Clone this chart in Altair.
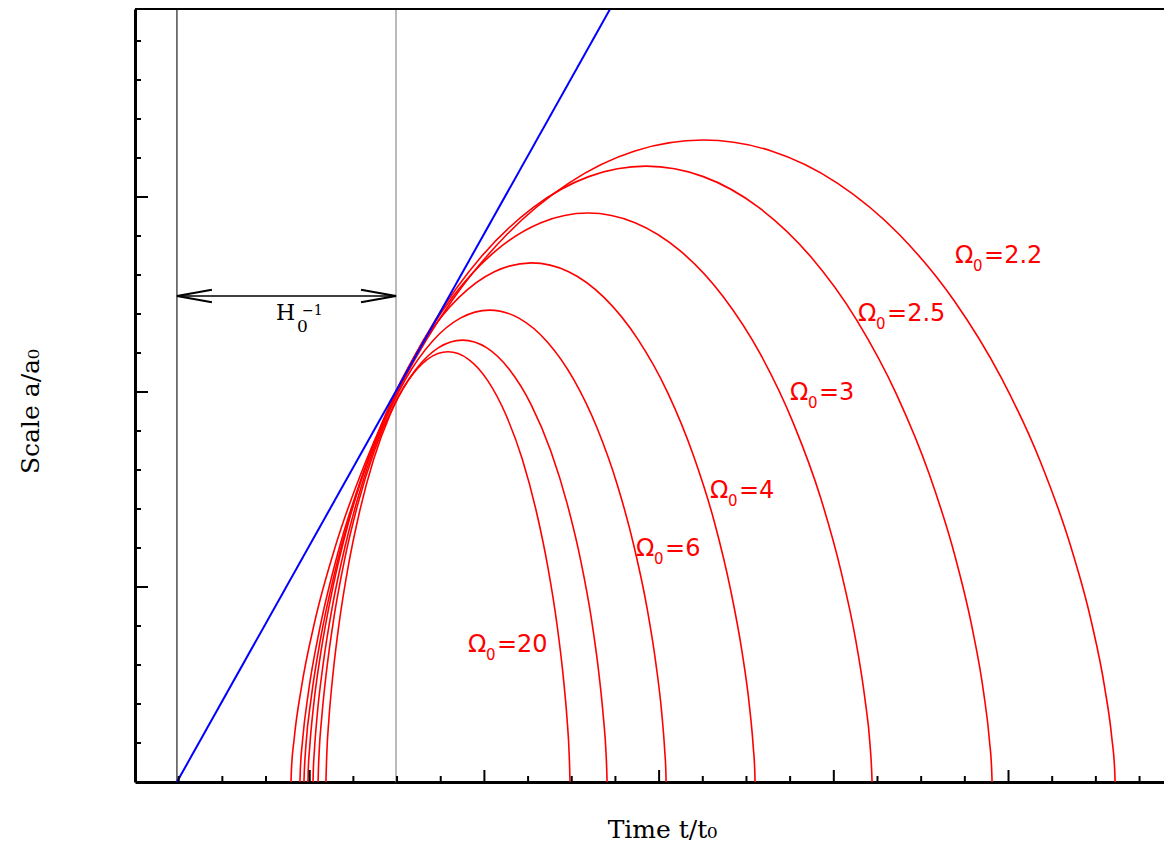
import altair as alt
import pandas as pd

# ---------------- data ----------------
# x: time in major-tick units (axis starts at 0), y: scale a/a0
OMEGA = ["20", "10", "6", "4", "3", "2.5", "2.2"]

T_OM20 = [1.093, 1.094, 1.098, 1.110, 1.133, 1.169, 1.220, 1.286, 1.366, 1.460, 1.564, 1.676, 1.792,
          1.907, 2.019, 2.123, 2.217, 2.297, 2.363, 2.414, 2.450, 2.473, 2.485, 2.489, 2.490]
A_OM20 = [0.0, 0.0188, 0.0739, 0.1615, 0.2758, 0.4088, 0.5515, 0.6942, 0.8273, 0.9415, 1.0291, 1.0843, 1.103,
          1.0843, 1.0291, 0.9415, 0.8273, 0.6942, 0.5515, 0.4088, 0.2758, 0.1615, 0.0739, 0.0188, 0.0]

T_OM10 = [1.048, 1.049, 1.054, 1.069, 1.096, 1.138, 1.198, 1.276, 1.371, 1.482, 1.606, 1.738, 1.875,
          2.012, 2.144, 2.268, 2.379, 2.474, 2.552, 2.612, 2.654, 2.681, 2.696, 2.701, 2.702]
A_OM10 = [0.0, 0.0193, 0.0759, 0.1659, 0.2833, 0.4199, 0.5665, 0.7131, 0.8498, 0.9671, 1.0571, 1.1137, 1.133,
          1.1137, 1.0571, 0.9671, 0.8498, 0.7131, 0.5665, 0.4199, 0.2833, 0.1659, 0.0759, 0.0193, 0.0]

T_OM6 = [1.019, 1.020, 1.027, 1.044, 1.077, 1.129, 1.203, 1.298, 1.414, 1.549, 1.700, 1.862, 2.030,
         2.197, 2.359, 2.510, 2.645, 2.761, 2.856, 2.930, 2.982, 3.015, 3.032, 3.039, 3.040]
A_OM6 = [0.0, 0.0206, 0.0811, 0.1771, 0.3025, 0.4484, 0.6050, 0.7616, 0.9075, 1.0329, 1.1289, 1.1894, 1.210,
         1.1894, 1.1289, 1.0329, 0.9075, 0.7616, 0.6050, 0.4484, 0.3025, 0.1771, 0.0811, 0.0206, 0.0]

T_OM4 = [0.990, 0.991, 1.000, 1.022, 1.064, 1.130, 1.222, 1.343, 1.490, 1.662, 1.853, 2.057, 2.270,
         2.482, 2.686, 2.877, 3.049, 3.196, 3.317, 3.409, 3.475, 3.517, 3.539, 3.548, 3.549]
A_OM4 = [0.0, 0.0227, 0.0892, 0.1949, 0.3328, 0.4933, 0.6655, 0.8377, 0.9983, 1.1361, 1.2418, 1.3084, 1.331,
         1.3084, 1.2418, 1.1361, 0.9983, 0.8377, 0.6655, 0.4933, 0.3328, 0.1949, 0.0892, 0.0227, 0.0]

T_OM3 = [0.967, 0.969, 0.979, 1.008, 1.061, 1.145, 1.262, 1.416, 1.603, 1.821, 2.063, 2.324, 2.593,
         2.862, 3.123, 3.365, 3.583, 3.770, 3.924, 4.041, 4.125, 4.178, 4.207, 4.217, 4.219]
A_OM3 = [0.0, 0.0249, 0.0978, 0.2136, 0.3648, 0.5407, 0.7295, 0.9183, 1.0943, 1.2454, 1.3612, 1.4342, 1.459,
         1.4342, 1.3612, 1.2454, 1.0943, 0.9183, 0.7295, 0.5407, 0.3648, 0.2136, 0.0978, 0.0249, 0.0]

T_OM25 = [0.944, 0.946, 0.959, 0.993, 1.058, 1.160, 1.304, 1.491, 1.719, 1.984, 2.280, 2.597, 2.925,
          3.253, 3.570, 3.866, 4.131, 4.359, 4.546, 4.690, 4.792, 4.857, 4.891, 4.904, 4.906]
A_OM25 = [0.0, 0.0269, 0.1058, 0.2312, 0.3948, 0.5852, 0.7895, 0.9938, 1.1843, 1.3478, 1.4732, 1.5522, 1.579,
          1.5522, 1.4732, 1.3478, 1.1843, 0.9938, 0.7895, 0.5852, 0.3948, 0.2312, 0.1058, 0.0269, 0.0]

T_OM22 = [0.893, 0.895, 0.911, 0.952, 1.029, 1.151, 1.322, 1.544, 1.815, 2.131, 2.483, 2.861, 3.252,
          3.642, 4.020, 4.372, 4.688, 4.959, 5.181, 5.352, 5.474, 5.551, 5.592, 5.608, 5.610]
A_OM22 = [0.0, 0.0280, 0.1103, 0.2410, 0.4115, 0.6100, 0.8230, 1.0360, 1.2345, 1.4050, 1.5357, 1.6180, 1.646,
          1.6180, 1.5357, 1.4050, 1.2345, 1.0360, 0.8230, 0.6100, 0.4115, 0.2410, 0.1103, 0.0280, 0.0]

# empty-universe (Hubble tangent) line
BLUE_T = [0.240, 2.742]
BLUE_A = [0.0, 2.0]

# reference vertical lines: start of tangent line, and t0
VLINE_T = [0.240, 1.494]
VLINE_COLOR = ["#222222", "#8c8c8c"]

# Hubble time arrow
ARROW_T = [0.240, 1.494]
ARROW_A = 1.246

# axis ticks (inward)
X_MAJOR = [1, 2, 3, 4, 5]
X_MINOR = [0.25, 0.5, 0.75, 1.25, 1.5, 1.75, 2.25, 2.5, 2.75, 3.25, 3.5, 3.75,
           4.25, 4.5, 4.75, 5.25, 5.5, 5.75]
Y_MAJOR = [0.5, 1.0, 1.5]
Y_MINOR = [0.1, 0.2, 0.3, 0.4, 0.6, 0.7, 0.8, 0.9, 1.1, 1.2, 1.3, 1.4, 1.6, 1.7, 1.8, 1.9]

# curve labels  (Ω₀ = value)
LABEL_VALUE = ["20", "6", "4", "3", "2.5", "2.2"]
LABEL_T = [1.906, 2.868, 3.291, 3.749, 4.139, 4.694]
LABEL_A = [0.333, 0.579, 0.728, 0.979, 1.182, 1.331]

# ---------------- layout ----------------
X_MAX = 5.890
Y_MAX = 1.982
W = 1029
H = 773

xs = alt.Scale(domain=[0, X_MAX], nice=False, zero=False)
ys = alt.Scale(domain=[0, Y_MAX], nice=False, zero=False)

x_axis = alt.Axis(title="Time  t/t₀", labels=False, ticks=False, grid=False, domain=True,
                  domainColor="black", domainWidth=3,
                  titleFont="DejaVu Serif", titleFontSize=25, titleFontWeight="normal",
                  titleColor="black", titleX=527, titleY=55, titleAlign="center",
                  titleBaseline="alphabetic")
y_axis = alt.Axis(title="Scale  a/a₀", labels=False, ticks=False, grid=False, domain=True,
                  domainColor="black", domainWidth=3,
                  titleFont="DejaVu Serif", titleFontSize=25, titleFontWeight="normal",
                  titleColor="black", titleX=-97, titleY=402, titleAngle=270, titleAlign="center",
                  titleBaseline="alphabetic")


def X(field):
    return alt.X(field, type="quantitative", scale=xs, axis=x_axis)


def Y(field):
    return alt.Y(field, type="quantitative", scale=ys, axis=y_axis)


curve_series = [T_OM20, T_OM10, T_OM6, T_OM4, T_OM3, T_OM25, T_OM22]
curve_values = [A_OM20, A_OM10, A_OM6, A_OM4, A_OM3, A_OM25, A_OM22]
rows = []
for om, ts, as_ in zip(OMEGA, curve_series, curve_values):
    for i, (t, a) in enumerate(zip(ts, as_)):
        rows.append({"omega": om, "i": i, "t": t, "a": a})
curves_df = pd.DataFrame(rows)

curves = alt.Chart(curves_df).mark_line(
    color="#ff0000", strokeWidth=1.6, interpolate="monotone", clip=True
).encode(x=X("t"), y=Y("a"), detail="omega:N", order="i:Q")

blue = alt.Chart(pd.DataFrame({"t": BLUE_T, "a": BLUE_A})).mark_line(
    color="#0000ff", strokeWidth=2, clip=True
).encode(x=X("t"), y=Y("a"))

vlines = alt.Chart(pd.DataFrame({"t": VLINE_T, "c": VLINE_COLOR})).mark_rule(strokeWidth=1.2).encode(
    x=X("t"), y=alt.value(0), y2=alt.value(H), color=alt.Color("c:N", scale=None)
)

arrow_line = alt.Chart(pd.DataFrame({"t": [ARROW_T[0]], "t2": [ARROW_T[1]], "a": [ARROW_A]})).mark_rule(
    color="black", strokeWidth=1.5
).encode(x=X("t"), x2="t2", y=Y("a"))

head_left = alt.Chart(pd.DataFrame({"t": [ARROW_T[0]], "a": [ARROW_A]})).mark_point(
    shape="M1,-0.18L0,0L1,0.18", size=4900, filled=False, color="black", strokeWidth=2, opacity=1
).encode(x=X("t"), y=Y("a"))
head_right = alt.Chart(pd.DataFrame({"t": [ARROW_T[1]], "a": [ARROW_A]})).mark_point(
    shape="M-1,-0.18L0,0L-1,0.18", size=4900, filled=False, color="black", strokeWidth=2, opacity=1
).encode(x=X("t"), y=Y("a"))

h_df = pd.DataFrame({"t": [0.807], "a": [1.185]})
h_main = alt.Chart(h_df).mark_text(text="H", font="DejaVu Serif", fontSize=22, align="left",
                                   baseline="alphabetic", color="black").encode(x=X("t"), y=Y("a"))
h_sub = alt.Chart(h_df).mark_text(text="0", font="DejaVu Serif", fontSize=17, align="left",
                                  baseline="alphabetic", color="black", dx=21, dy=12).encode(x=X("t"), y=Y("a"))
h_sup = alt.Chart(h_df).mark_text(text="−1", font="DejaVu Serif", fontSize=14, align="left",
                                  baseline="alphabetic", color="black", dx=26, dy=-5).encode(x=X("t"), y=Y("a"))

xt_major = alt.Chart(pd.DataFrame({"t": X_MAJOR})).mark_rule(color="black", strokeWidth=2).encode(
    x=X("t"), y=alt.value(H), y2=alt.value(H - 12))
xt_minor = alt.Chart(pd.DataFrame({"t": X_MINOR})).mark_rule(color="black", strokeWidth=2).encode(
    x=X("t"), y=alt.value(H), y2=alt.value(H - 6))
yt_major = alt.Chart(pd.DataFrame({"a": Y_MAJOR})).mark_rule(color="black", strokeWidth=2).encode(
    y=Y("a"), x=alt.value(0), x2=alt.value(13))
yt_minor = alt.Chart(pd.DataFrame({"a": Y_MINOR})).mark_rule(color="black", strokeWidth=2).encode(
    y=Y("a"), x=alt.value(0), x2=alt.value(6))

top_border = alt.Chart(pd.DataFrame({"a": [Y_MAX]})).mark_rule(color="black", strokeWidth=2).encode(
    y=Y("a"), x=alt.value(0), x2=alt.value(W))

lab_df = pd.DataFrame({"val": ["=" + v for v in LABEL_VALUE], "t": LABEL_T, "a": LABEL_A})
lab_omega = alt.Chart(lab_df).mark_text(
    text="Ω", font="DejaVu Sans", fontSize=24, align="left", baseline="alphabetic", color="#ff0000"
).encode(x=X("t"), y=Y("a"))
lab_sub = alt.Chart(lab_df).mark_text(
    text="0", font="DejaVu Sans", fontSize=15, align="left", baseline="alphabetic", color="#ff0000",
    dx=18, dy=8
).encode(x=X("t"), y=Y("a"))
lab_val = alt.Chart(lab_df).mark_text(
    font="DejaVu Sans", fontSize=24, align="left", baseline="alphabetic", color="#ff0000", dx=29
).encode(x=X("t"), y=Y("a"), text="val:N")

chart = alt.layer(
    vlines, curves, blue, arrow_line, head_left, head_right, h_main, h_sub, h_sup,
    xt_major, xt_minor, yt_major, yt_minor, top_border, lab_omega, lab_sub, lab_val
).properties(
    width=W, height=H,
    padding={"left": 127, "top": 1, "right": 0, "bottom": 62},
    autosize=alt.AutoSizeParams(type="none"),
    background="white",
).configure_view(stroke=None)

chart.save("out.html", embed_options={"renderer": "svg", "actions": False})
